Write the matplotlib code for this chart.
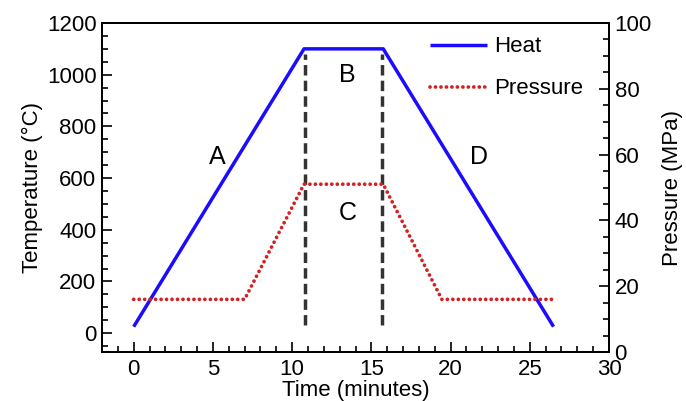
import matplotlib
matplotlib.use("Agg")
import matplotlib.pyplot as plt
from matplotlib.ticker import MultipleLocator

plt.rcParams['font.family'] = ['Liberation Sans', 'DejaVu Sans']

# Data
heat_time = [0, 10.75, 15.75, 26.5]
heat_temp = [25, 1100, 1100, 25]
pres_time = [0, 7.0, 10.75, 15.75, 19.45, 26.5]
pres_mpa = [16, 16, 51, 51, 16, 16]
stage_lines = [10.8, 15.65]
stage_line_range = [30, 1080]
stage_labels = ['A', 'B', 'C', 'D']
stage_label_pos = [(5.3, 680), (13.5, 1000), (13.5, 465), (21.8, 680)]

fig = plt.figure(figsize=(6.86, 4.01), dpi=100)
ax = fig.add_axes([102/686, 1-352/401, (609-102)/686, (352-23)/401])
ax2 = ax.twinx()

h, = ax.plot(heat_time, heat_temp, color='#1a0dff', lw=2.5, label='Heat', solid_capstyle='butt')
p, = ax2.plot(pres_time, pres_mpa, color='#d42020', lw=2.7, ls=(0, (0.01, 1.45)),
              dash_capstyle='round', label='Pressure')
for x in stage_lines:
    ax.plot([x, x], stage_line_range, color='#333333', lw=2.5, ls=(0, (3, 1.5)))
for lab, (x, y) in zip(stage_labels, stage_label_pos):
    ax.text(x, y, lab, fontsize=18, ha='center', va='center')

ax.set_xlim(-2, 30)
ax.set_ylim(-73, 1200)
ax2.set_ylim(0, 100)
ax.xaxis.set_major_locator(MultipleLocator(5))
ax.xaxis.set_minor_locator(MultipleLocator(1))
ax.yaxis.set_major_locator(MultipleLocator(200))
ax.yaxis.set_minor_locator(MultipleLocator(50))
ax2.yaxis.set_major_locator(MultipleLocator(20))
ax2.yaxis.set_minor_locator(MultipleLocator(5))

for a in (ax, ax2):
    a.tick_params(which='major', direction='in', length=7, width=1.2, labelsize=16, pad=4)
    a.tick_params(which='minor', direction='in', length=4, width=1.2)
    for s in a.spines.values():
        s.set_linewidth(1.3)
ax.tick_params(axis='x', pad=5)

ax.set_xlabel('Time (minutes)', fontsize=16, labelpad=0)
ax.set_ylabel('Temperature (°C)', fontsize=16, labelpad=3)
ax2.set_ylabel('Pressure (MPa)', fontsize=16, labelpad=7)

ax.legend([h, p], ['Heat', 'Pressure'], loc='upper right', frameon=False, fontsize=16,
          handlelength=2.6, handletextpad=0.3, borderaxespad=0.2, labelspacing=0.95,
          bbox_to_anchor=(0.975, 1.0))

fig.savefig('out.png', dpi=100)
